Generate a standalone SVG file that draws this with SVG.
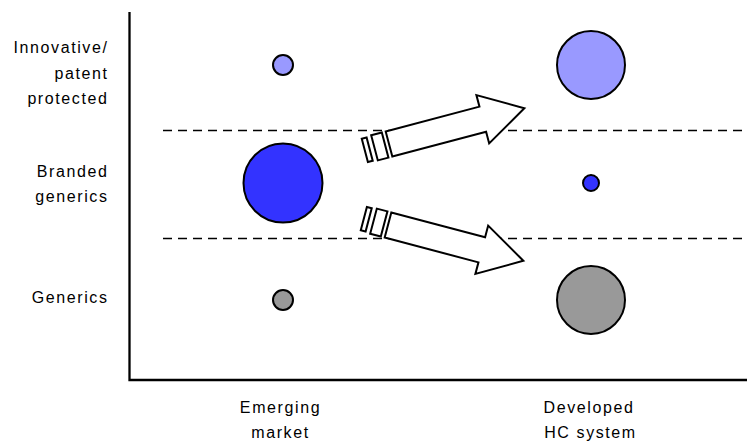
<svg xmlns="http://www.w3.org/2000/svg" width="747" height="444" viewBox="0 0 747 444">
<style>
.lbl{font-family:"Liberation Sans",Arial,sans-serif;font-size:16px;letter-spacing:1.6px;fill:#000}
.axis{stroke:#000;stroke-width:2.3;fill:none}
.dash{stroke:#000;stroke-width:1.7;stroke-dasharray:9,6;fill:none}
.c{stroke:#000;stroke-width:2}
.inn{fill:#9999ff}
.br{fill:#3333ff}
.gen{fill:#999999}
.arr{fill:#fff;stroke:#000;stroke-width:2;stroke-linejoin:miter}
</style>
<defs>
<g id="bigArrow">
<rect class="arr" x="-25" y="-12" width="5" height="24"/>
<rect class="arr" x="-15" y="-13" width="11" height="26"/>
<path class="arr" d="M0,-13 L97,-13 L97,-25 L140,0 L97,25 L97,13 L0,13 Z"/>
</g>
</defs>
<rect width="747" height="444" fill="#fff"/>
<g id="axes">
<path class="axis" d="M129.5,12 L129.5,380 L747,380"/>
</g>
<g id="dividers">
<line class="dash" x1="163" y1="130.5" x2="747" y2="130.5"/>
<line class="dash" x1="163" y1="238.5" x2="747" y2="238.5"/>
</g>
<g id="row-labels">
<text class="lbl" text-anchor="end" x="108.5" y="53">Innovative/</text>
<text class="lbl" text-anchor="end" x="108.5" y="78.5">patent</text>
<text class="lbl" text-anchor="end" x="108.5" y="104">protected</text>
<text class="lbl" text-anchor="end" x="108.5" y="177">Branded</text>
<text class="lbl" text-anchor="end" x="108.5" y="202">generics</text>
<text class="lbl" text-anchor="end" x="108.5" y="303">Generics</text>
</g>
<g id="col-labels">
<text class="lbl" text-anchor="middle" x="280.5" y="413">Emerging</text>
<text class="lbl" text-anchor="middle" x="280.5" y="438">market</text>
<text class="lbl" text-anchor="middle" x="589" y="413">Developed</text>
<text class="lbl" text-anchor="middle" x="590.5" y="438">HC system</text>
</g>
<g id="em-innovative"><circle class="c inn" cx="283" cy="65" r="10"/></g>
<g id="em-branded"><circle class="c br" cx="283" cy="183" r="39.5"/></g>
<g id="em-generics"><circle class="c gen" cx="283" cy="300" r="10"/></g>
<g id="dev-innovative"><circle class="c inn" cx="591" cy="65" r="34"/></g>
<g id="dev-branded"><circle class="c br" cx="591" cy="183" r="8"/></g>
<g id="dev-generics"><circle class="c gen" cx="591" cy="300" r="34"/></g>
<g id="connectors">
<use href="#bigArrow" transform="translate(389,144) rotate(-14.8)"/>
<use href="#bigArrow" transform="translate(388,225) rotate(14.8)"/>
</g>
</svg>
